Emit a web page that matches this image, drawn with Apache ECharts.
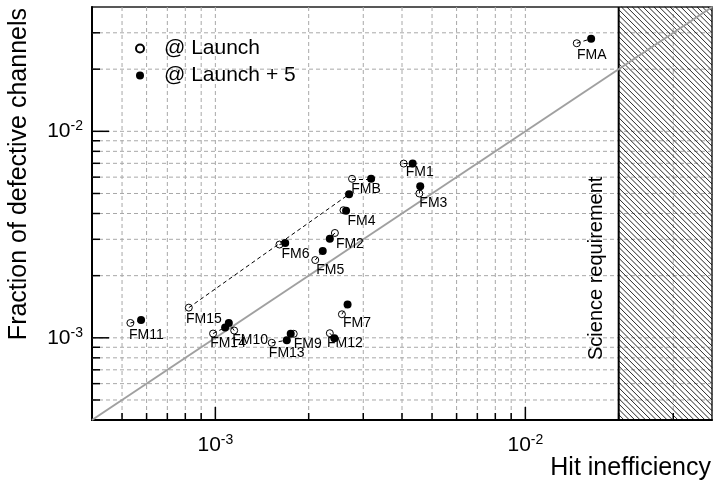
<!DOCTYPE html>
<html><head><meta charset="utf-8">
<script src="https://cdn.jsdelivr.net/npm/echarts@6/dist/echarts.min.js"></script>
<style>html,body{margin:0;padding:0;background:#fff}#c{width:714px;height:480px}</style>
</head><body><div id="c"></div>
<script>
// ---- data ----
const modules = ['FM1','FM2','FM3','FM4','FM5','FM6','FM7','FM9','FM10','FM11','FM12','FM13','FM14','FM15','FMA','FMB'];
const launchX = [4.05e-3, 2.43e-3, 4.55e-3, 2.59e-3, 2.10e-3, 1.61e-3, 2.56e-3, 1.79e-3, 1.15e-3, 5.32e-4, 2.34e-3, 1.52e-3, 9.83e-4, 8.21e-4, 1.465e-2, 2.76e-3];
const launchY = [6.98e-3, 3.22e-3, 5.00e-3, 4.15e-3, 2.38e-3, 2.83e-3, 1.30e-3, 1.046e-3, 1.085e-3, 1.18e-3, 1.053e-3, 9.46e-4, 1.049e-3, 1.40e-3, 2.67e-2, 5.89e-3];
const plus5X  = [4.33e-3, 2.34e-3, 4.58e-3, 2.64e-3, 2.22e-3, 1.68e-3, 2.67e-3, 1.75e-3, 1.105e-3, 5.76e-4, 2.42e-3, 1.70e-3, 1.075e-3, 2.70e-3, 1.63e-2, 3.18e-3];
const plus5Y  = [6.98e-3, 3.02e-3, 5.42e-3, 4.12e-3, 2.63e-3, 2.88e-3, 1.45e-3, 1.046e-3, 1.18e-3, 1.22e-3, 9.96e-4, 9.74e-4, 1.122e-3, 4.96e-3, 2.81e-2, 5.89e-3];
const seriesNames = ['@ Launch', '@ Launch + 5'];
const axisMin = 4e-4, axisMax = 4e-2;
const gridValues = [5e-4,6e-4,7e-4,8e-4,9e-4,1e-3,2e-3,3e-3,4e-3,5e-3,6e-3,7e-3,8e-3,9e-3,1e-2,2e-2,3e-2];
const requirement = 0.02;
const diagonal = [4e-4, 4e-2];

// label offsets (style only)
const labelOffset = {FMA:[15,12],FM1:[16,9],FM3:[14,10],FMB:[14,10],FM4:[18,11],FM2:[15,11],FM5:[15,10],FM6:[16,10],
  FM15:[15,11],FM11:[16,12],FM14:[15,10],FM10:[16,10],FM13:[15,10],FM9:[14,10],FM12:[15,10],FM7:[15,9]};

const FONT = 'Liberation Sans, Arial, Helvetica, sans-serif';
const isMajor = v => Math.abs(Math.log10(v) - Math.round(Math.log10(v))) < 1e-9;
const powLabel = v => {
  const e = Math.round(Math.log10(v));
  if (Math.abs(v / Math.pow(10, e) - 1) < 1e-6) return '{b|10}{s|' + e + '}';
  return '';
};
const rich = {b:{fontSize:21, color:'#000', fontFamily:FONT}, s:{fontSize:14, color:'#000', fontFamily:FONT, padding:[0,0,10,0]}};

const chart = echarts.init(document.getElementById('c'), null, {renderer:'canvas'});
chart.setOption({
  animation:false,
  backgroundColor:'#fff',
  textStyle:{fontFamily:FONT},
  grid:{left:92, right:2, top:7, bottom:60, containLabel:false, outerBoundsMode:'none',
        show:true, borderColor:'#222', borderWidth:1.5, backgroundColor:'transparent'},
  legend:{orient:'vertical', left:130, top:33, itemWidth:8, itemHeight:8, itemGap:6, selectedMode:false,
          data:seriesNames, textStyle:{fontSize:21, color:'#000', fontFamily:FONT, padding:[0,0,0,15]}},
  xAxis:{type:'log', logBase:10, min:axisMin, max:axisMax,
    name:'{n|Hit inefficiency}', nameLocation:'end', nameGap:-1, nameMoveOverlap:false,
    nameTextStyle:{align:'right', verticalAlign:'top',
      rich:{n:{fontSize:25, color:'#000', fontFamily:FONT, padding:[36,0,0,0]}}},
    axisLine:{show:true, onZero:false, lineStyle:{color:'#000', width:2}},
    axisTick:{show:false}, splitLine:{show:false}, minorTick:{show:false}, minorSplitLine:{show:false},
    axisLabel:{formatter:powLabel, rich:rich, margin:13, showMinLabel:true, showMaxLabel:true}},
  yAxis:{type:'log', logBase:10, min:axisMin, max:axisMax,
    name:'{n|Fraction of defective channels}', nameLocation:'end', nameGap:-1, nameRotate:90, nameMoveOverlap:false,
    nameTextStyle:{align:'right', verticalAlign:'middle',
      rich:{n:{fontSize:25, color:'#000', fontFamily:FONT, padding:[0,0,146,0]}}},
    axisLine:{show:true, onZero:false, lineStyle:{color:'#000', width:2}},
    axisTick:{show:false}, splitLine:{show:false}, minorTick:{show:false}, minorSplitLine:{show:false},
    axisLabel:{formatter:powLabel, rich:rich, margin:9}},
  series:[
    { // vertical grid lines + bottom ticks
      type:'custom', z:1, silent:true, clip:false,
      data: gridValues.map(v => [v, axisMin]),
      renderItem:(params, api) => {
        const v = api.value(0);
        const b = api.coord([v, axisMin]), t = api.coord([v, axisMax]);
        const len = isMajor(v) ? 13 : 7;
        return {type:'group', children:[
          {type:'line', shape:{x1:b[0], y1:t[1], x2:b[0], y2:b[1]}, style:{stroke:'#a8a8a8', lineWidth:1, lineDash:[4,3]}},
          {type:'line', shape:{x1:b[0], y1:b[1], x2:b[0], y2:b[1]-len}, style:{stroke:'#000', lineWidth:1.5}}
        ]};
      }
    },
    { // horizontal grid lines + left ticks
      type:'custom', z:1, silent:true, clip:false,
      data: gridValues.map(v => [axisMin, v]),
      renderItem:(params, api) => {
        const v = api.value(1);
        const l = api.coord([axisMin, v]), r = api.coord([axisMax, v]);
        const len = isMajor(v) ? 17 : 8;
        return {type:'group', children:[
          {type:'line', shape:{x1:l[0], y1:l[1], x2:r[0], y2:l[1]}, style:{stroke:'#a8a8a8', lineWidth:1, lineDash:[4,3]}},
          {type:'line', shape:{x1:l[0], y1:l[1], x2:l[0]+len, y2:l[1]}, style:{stroke:'#000', lineWidth:1.5}}
        ]};
      }
    },
    { // hatched science-requirement region
      type:'custom', z:2, silent:true, clip:false,
      data:[[requirement, axisMax]],
      renderItem:(params, api) => {
        const a = api.coord([requirement, axisMax]);
        const b = api.coord([axisMax, axisMin]);
        const x0=a[0], y0=a[1], x1=b[0], y1=b[1];
        const children = [];
        const s = 5.4;
        for (let k = x0 - y1; k <= x1 - y0; k += s) {
          const ya = Math.max(y0, x0 - k), yb = Math.min(y1, x1 - k);
          if (yb > ya) children.push({type:'line', shape:{x1:ya+k, y1:ya, x2:yb+k, y2:yb}, style:{stroke:'#000', lineWidth:0.85}});
        }
        children.push({type:'line', shape:{x1:x0, y1:y0, x2:x0, y2:y1}, style:{stroke:'#000', lineWidth:2}});
        children.push({type:'text', x:x0-22, y:y1-60, rotation:Math.PI/2,
          style:{text:'Science requirement', x:0, y:0, align:'left', verticalAlign:'middle', fill:'#000', fontSize:20, fontFamily:FONT}});
        return {type:'group', children};
      }
    },
    { // y = x line
      type:'line', z:2, silent:true, symbol:'none',
      data: diagonal.map(v => [v, v]),
      lineStyle:{color:'#a0a0a0', width:2}
    },
    {
      name:seriesNames[0], type:'scatter', z:3, silent:true, symbol:'circle', symbolSize:7,
      itemStyle:{color:'rgba(255,255,255,0)', borderColor:'#000', borderWidth:1, opacity:1},
      data: launchX.map((x,i) => [x, launchY[i]]),
      label:{show:true, position:'inside', color:'#000', fontSize:14, fontFamily:FONT,
        formatter: p => modules[p.dataIndex]},
      labelLayout: p => {
        const o = labelOffset[modules[p.dataIndex]] || [15,10];
        return {dx:o[0], dy:o[1]};
      }
    },
    {
      name:seriesNames[1], type:'scatter', z:3, silent:true, symbol:'circle', symbolSize:8,
      itemStyle:{color:'#000', opacity:1},
      data: plus5X.map((x,i) => [x, plus5Y[i]])
    },
    { // dashed connectors launch -> launch+5
      type:'lines', coordinateSystem:'cartesian2d', z:4, silent:true,
      data: modules.map((m,i) => ({coords:[[launchX[i], launchY[i]], [plus5X[i], plus5Y[i]]]})),
      lineStyle:{color:'#000', width:1, type:[4,3], opacity:1, curveness:0}
    }
  ]
});
</script></body></html>
